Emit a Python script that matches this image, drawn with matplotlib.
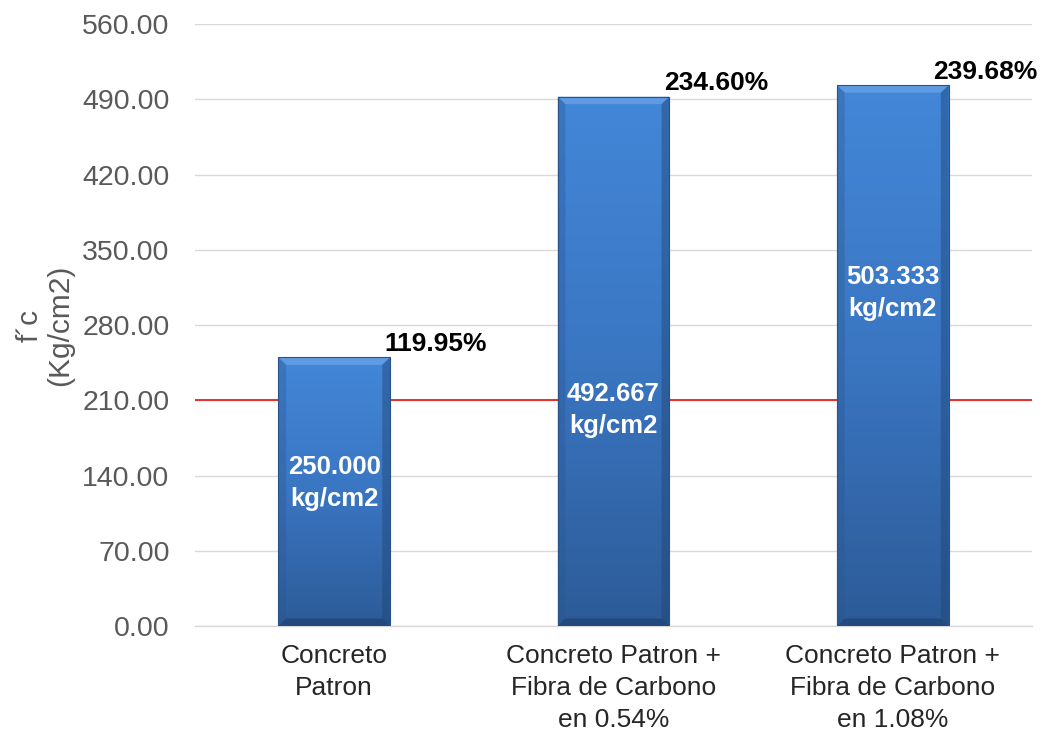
import matplotlib
matplotlib.use("Agg")
import matplotlib.pyplot as plt
import numpy as np
from matplotlib.colors import LinearSegmentedColormap
from matplotlib.patches import Polygon

plt.rcParams['font.family'] = ['Liberation Sans', 'DejaVu Sans']

categories = ["Concreto\nPatron",
              "Concreto Patron +\nFibra de Carbono\nen 0.54%",
              "Concreto Patron +\nFibra de Carbono\nen 1.08%"]
strength = [250.000, 492.667, 503.333]
pct_labels = ["119.95%", "234.60%", "239.68%"]
design_fc = 210.0
yticks = np.arange(0, 561, 70)

# placement of the text: value label height inside each bar, x shift (pt) of the percentage
inner_y = [133, 201, 310]
pct_dx = [0, 0, -7]

fig = plt.figure(figsize=(10.46, 7.36), dpi=100)
ax = fig.add_axes([0.186, 0.1495, 0.801, 0.8175])

x = np.arange(len(categories))
bw = 0.40
bars = ax.bar(x, strength, width=bw, color="none", edgecolor="none", zorder=3)

ax.set_xlim(-0.5, 2.5)
ax.set_ylim(0, 560)

# gradient fill with bevelled edges for each bar
grad = LinearSegmentedColormap.from_list("bar", ["#2d5b98", "#3a76c2", "#4387d8"])
bx = 0.028   # bevel width in x units
by = 7.0     # bevel height in y units
for rect in bars:
    x0, w, h = rect.get_x(), rect.get_width(), rect.get_height()
    img = np.linspace(0, 1, 256).reshape(-1, 1)
    im = ax.imshow(img, extent=(x0, x0 + w, 0, h), origin="lower", cmap=grad,
                   aspect="auto", zorder=3, interpolation="bilinear")
    im.set_clip_path(rect)
    x1 = x0 + w
    top = Polygon([(x0, h), (x1, h), (x1 - bx, h - by), (x0 + bx, h - by)],
                  closed=True, facecolor="#6aa3e6", edgecolor="none", alpha=0.75, zorder=4)
    left = Polygon([(x0, 0), (x0, h), (x0 + bx, h - by), (x0 + bx, by)],
                   closed=True, facecolor="#2a5690", edgecolor="none", alpha=0.35, zorder=4)
    right = Polygon([(x1, 0), (x1, h), (x1 - bx, h - by), (x1 - bx, by)],
                    closed=True, facecolor="#1f4575", edgecolor="none", alpha=0.45, zorder=4)
    bottom = Polygon([(x0, 0), (x1, 0), (x1 - bx, by), (x0 + bx, by)],
                     closed=True, facecolor="#1c3f6c", edgecolor="none", alpha=0.6, zorder=4)
    for p in (top, left, right, bottom):
        ax.add_patch(p)
    ax.add_patch(plt.Rectangle((x0, 0), w, h, facecolor="none",
                               edgecolor="#2a5288", linewidth=0.8, zorder=5))

ax.set_xlim(-0.5, 2.5)
ax.set_ylim(0, 560)

# design strength reference line
ax.axhline(design_fc, color="#e8201c", linewidth=1.3, zorder=2)

for xi, v, pl, iy, dx in zip(x, strength, pct_labels, inner_y, pct_dx):
    ax.annotate(pl, (xi + bw / 2 - 0.02, v), xytext=(dx, 1), textcoords="offset points",
                ha="left", va="bottom", fontsize=19, fontweight="bold", color="black", zorder=6)
    ax.text(xi, iy, f"{v:.3f}\nkg/cm2", ha="center", va="center", fontsize=18.5,
            fontweight="bold", color="white", zorder=6, linespacing=1.38)

ax.set_yticks(yticks)
ax.set_yticklabels([f"{t:.2f}" for t in yticks])
ax.set_xticks(x)
ax.set_xticklabels(categories, linespacing=1.42)
ax.tick_params(axis="y", length=0, pad=18, labelsize=20.5, labelcolor="#595959")
ax.tick_params(axis="x", length=0, pad=13, labelsize=19, labelcolor="#262626")

ax.grid(axis="y", color="#d9d9d9", linewidth=1.0, zorder=0)
ax.set_axisbelow(True)
for s in ("left", "right", "top"):
    ax.spines[s].set_visible(False)
ax.spines["bottom"].set_color("#d9d9d9")
ax.spines["bottom"].set_linewidth(1.0)

ax.set_ylabel("f\u00b4c\n(Kg/cm2)", fontsize=21.5, color="#595959", linespacing=1.1, labelpad=6)

fig.savefig("out.png", dpi=100)
